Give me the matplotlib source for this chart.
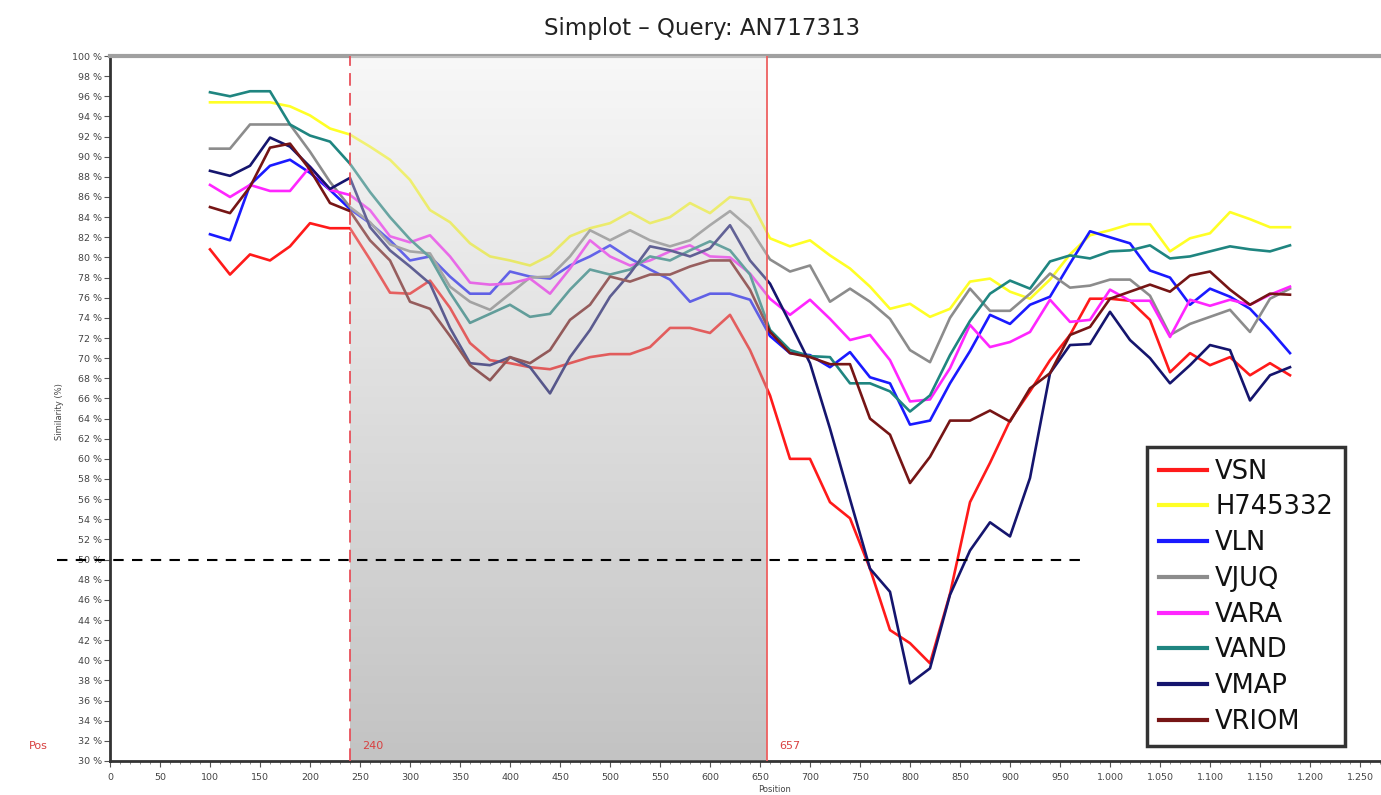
import numpy as np
import matplotlib
matplotlib.use("Agg")
import matplotlib.pyplot as plt
from matplotlib.ticker import FuncFormatter, MultipleLocator

plt.rcParams['font.family'] = ['DejaVu Sans']

positions = list(range(100, 1181, 20))

VSN = [80.8, 78.3, 80.3, 79.7, 81.1, 83.4, 82.9, 82.9, 79.8, 76.5, 76.4, 77.7, 75.0, 71.5, 69.8, 69.5,
       69.1, 68.9, 69.5, 70.1, 70.4, 70.4, 71.1, 73.0, 73.0, 72.5, 74.3, 70.8, 66.3, 60.0, 60.0, 55.7,
       54.1, 49.1, 43.0, 41.7, 39.7, 46.6, 55.7, 59.6, 63.8, 66.7, 69.8, 72.3, 75.9, 75.9, 75.7, 73.8,
       68.6, 70.5, 69.3, 70.1, 68.3, 69.5, 68.3]
H745332 = [95.4, 95.4, 95.4, 95.4, 95.0, 94.1, 92.8, 92.2, 91.0, 89.7, 87.7, 84.7, 83.5, 81.4, 80.1, 79.7,
           79.2, 80.2, 82.1, 82.9, 83.4, 84.5, 83.4, 84.0, 85.4, 84.4, 86.0, 85.7, 81.9, 81.1, 81.7, 80.2,
           78.9, 77.1, 74.9, 75.4, 74.1, 74.9, 77.6, 77.9, 76.6, 75.9, 77.8, 80.3, 82.2, 82.7, 83.3, 83.3,
           80.6, 81.9, 82.4, 84.5, 83.8, 83.0, 83.0]
VLN = [82.3, 81.7, 87.2, 89.1, 89.7, 88.4, 86.7, 84.8, 83.4, 81.7, 79.7, 80.1, 78.1, 76.4, 76.4, 78.6,
       78.1, 77.9, 79.2, 80.1, 81.2, 79.9, 78.8, 77.8, 75.6, 76.4, 76.4, 75.8, 72.2, 70.5, 70.3, 69.1,
       70.6, 68.1, 67.5, 63.4, 63.8, 67.5, 70.7, 74.3, 73.4, 75.3, 76.1, 79.4, 82.6, 82.0, 81.4, 78.7,
       78.0, 75.3, 76.9, 76.1, 74.9, 72.8, 70.5]
VJUQ = [90.8, 90.8, 93.2, 93.2, 93.2, 90.5, 87.5, 85.0, 83.5, 81.3, 80.6, 80.4, 77.1, 75.6, 74.8, 76.4,
        78.0, 78.1, 80.1, 82.7, 81.7, 82.7, 81.7, 81.1, 81.7, 83.2, 84.6, 82.9, 79.8, 78.6, 79.2, 75.6,
        76.9, 75.6, 73.9, 70.8, 69.6, 74.0, 76.9, 74.7, 74.7, 76.4, 78.4, 77.0, 77.2, 77.8, 77.8, 76.2,
        72.3, 73.4, 74.1, 74.8, 72.6, 75.9, 76.9]
VARA = [87.2, 86.0, 87.2, 86.6, 86.6, 89.0, 86.7, 86.2, 84.7, 82.1, 81.5, 82.2, 80.1, 77.5, 77.3, 77.4,
        77.9, 76.4, 78.9, 81.7, 80.1, 79.2, 79.7, 80.6, 81.2, 80.1, 80.0, 78.4, 75.9, 74.3, 75.8, 73.9,
        71.8, 72.3, 69.8, 65.7, 65.9, 69.0, 73.3, 71.1, 71.6, 72.6, 75.8, 73.6, 73.8, 76.8, 75.7, 75.7,
        72.1, 75.8, 75.2, 75.8, 75.3, 76.3, 77.1]
VAND = [96.4, 96.0, 96.5, 96.5, 93.2, 92.1, 91.5, 89.3, 86.5, 84.0, 81.8, 80.0, 76.5, 73.5, 74.4, 75.3,
        74.1, 74.4, 76.8, 78.8, 78.3, 78.8, 80.1, 79.7, 80.7, 81.6, 80.7, 78.3, 72.8, 70.8, 70.2, 70.1,
        67.5, 67.5, 66.7, 64.7, 66.3, 70.3, 73.7, 76.4, 77.7, 76.9, 79.6, 80.2, 79.9, 80.6, 80.7, 81.2,
        79.9, 80.1, 80.6, 81.1, 80.8, 80.6, 81.2]
VMAP = [88.6, 88.1, 89.1, 91.9, 91.0, 89.0, 86.8, 87.9, 83.0, 80.7, 79.1, 77.4, 73.0, 69.5, 69.3, 70.1,
        69.1, 66.5, 70.1, 72.8, 76.1, 78.4, 81.1, 80.7, 80.1, 80.9, 83.2, 79.7, 77.4, 73.5, 69.5, 63.0,
        56.0, 49.1, 46.8, 37.7, 39.2, 46.5, 50.9, 53.7, 52.3, 58.1, 68.5, 71.3, 71.4, 74.6, 71.8, 70.0,
        67.5, 69.3, 71.3, 70.8, 65.8, 68.3, 69.1]
VRIOM = [85.0, 84.4, 87.0, 90.9, 91.3, 88.7, 85.4, 84.6, 81.7, 79.7, 75.6, 74.9, 72.2, 69.3, 67.8, 70.1,
         69.5, 70.8, 73.8, 75.3, 78.1, 77.6, 78.3, 78.3, 79.1, 79.7, 79.7, 76.8, 72.6, 70.5, 70.1, 69.4,
         69.4, 64.0, 62.4, 57.6, 60.2, 63.8, 63.8, 64.8, 63.7, 67.0, 68.5, 72.3, 73.1, 75.9, 76.6, 77.3,
         76.6, 78.2, 78.6, 76.8, 75.3, 76.4, 76.3]

series_names = ["VSN", "H745332", "VLN", "VJUQ", "VARA", "VAND", "VMAP", "VRIOM"]
series_values = [VSN, H745332, VLN, VJUQ, VARA, VAND, VMAP, VRIOM]
series_colors = ["#ff1a1a", "#ffff26", "#1a1aff", "#8c8c8c", "#ff26ff", "#1f8580", "#15156e", "#761515"]

region_start, region_end = 240, 657
threshold = 50

W, H = 1381, 795
fig = plt.figure(figsize=(W / 100, H / 100), dpi=100)
ax = fig.add_axes([110 / W, 1 - 761 / H, 1 - 110 / W, (761 - 56) / H])

for name, vals, col in zip(series_names, series_values, series_colors):
    ax.plot(positions, vals, color=col, lw=1.9, label=name, zorder=3)

# shaded region (semi-transparent gradient overlay)
grad = np.linspace(0, 1, 256).reshape(-1, 1)
rgba = np.zeros((256, 1, 4))
top_c, bot_c = 238 / 255, 112 / 255
g = top_c + (bot_c - top_c) * grad
rgba[..., 0] = g
rgba[..., 1] = g
rgba[..., 2] = g
rgba[..., 3] = 0.42
ax.imshow(rgba, extent=[region_start, region_end, 30, 100], origin='upper',
          aspect='auto', zorder=4, interpolation='bilinear')
ax.set_xlim(0, 1271)
ax.set_ylim(30, 100)

ax.axvline(region_start, color="#e8505a", lw=1.3, ls=(0, (7, 4)), zorder=5)
ax.axvline(region_end, color="#ee6060", lw=1.3, zorder=5)
ax.text(region_start + 12, 31.5, str(region_start), color="#d84040", fontsize=8, va='center', zorder=6)
ax.text(region_end + 12, 31.5, str(region_end), color="#d84040", fontsize=8, va='center', zorder=6)

ax.plot([-53, 978], [threshold, threshold], color="black", lw=1.5, ls=(0, (5, 4)),
        clip_on=False, zorder=7)

# axes styling
ax.spines['right'].set_visible(False)
ax.spines['top'].set_color("#a0a0a0")
ax.spines['top'].set_linewidth(3)
ax.spines['left'].set_color("#333333")
ax.spines['left'].set_linewidth(2)
ax.spines['bottom'].set_color("#333333")
ax.spines['bottom'].set_linewidth(2)

ax.yaxis.set_major_locator(MultipleLocator(2))
ax.yaxis.set_major_formatter(FuncFormatter(lambda v, p: f"{int(round(v))} %"))
ax.xaxis.set_major_locator(MultipleLocator(50))
ax.xaxis.set_minor_locator(MultipleLocator(10))
ax.xaxis.set_major_formatter(FuncFormatter(lambda v, p: f"{int(round(v)):,}".replace(",", ".")))
ax.tick_params(axis='both', which='major', labelsize=6.8, colors="#555555", length=4, width=0.8,
               pad=2)
ax.tick_params(axis='x', which='minor', length=2, width=0.6, colors="#777777")
ax.tick_params(axis='x', which='major', pad=5)
for lab in ax.get_xticklabels() + ax.get_yticklabels():
    lab.set_color("#444444")

fig.text(775 / W, 1 - 790 / H, "Position", fontsize=6, color="#444444", ha='center', va='center')
fig.text(60 / W, 1 - 412 / H, "Similarity (%)", fontsize=6, color="#444444", rotation=90,
         ha='center', va='center')
fig.text(38 / W, 1 - 746 / H, "Pos", fontsize=8, color="#d84040", ha='center', va='center')
fig.text(702 / W, 1 - 28 / H, "Simplot \u2013 Query: AN717313", fontsize=16.5, color="#222222",
         ha='center', va='center')

leg = ax.legend(loc='upper left', bbox_to_anchor=(1147 / W, 1 - 447 / H),
                bbox_transform=fig.transFigure, fontsize=18.5, frameon=True, fancybox=False,
                handlelength=1.9, handletextpad=0.3, labelspacing=0.38, borderpad=0.45,
                borderaxespad=0)
leg.get_frame().set_edgecolor("black")
leg.get_frame().set_linewidth(2.5)
for h in leg.get_lines():
    h.set_linewidth(3)
for t in leg.get_texts():
    t.set_color("#111111")
leg.set_zorder(10)

fig.savefig("out.png", dpi=100)
